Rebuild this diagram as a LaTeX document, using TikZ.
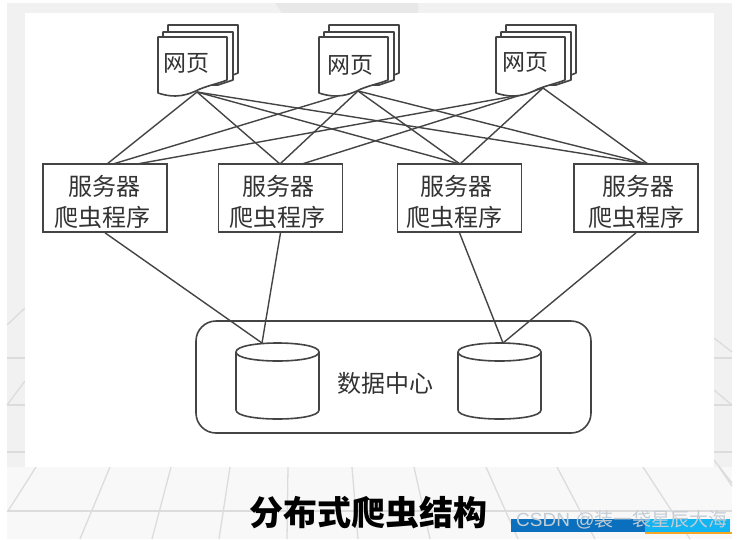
\documentclass[tikz,border=0pt]{standalone}
\usepackage{fontspec}
\newfontfamily\cjk{Noto Sans CJK SC}
\newfontfamily\wmfont{Liberation Sans}
\definecolor{ink}{HTML}{444444}
\definecolor{txt}{HTML}{333333}
\definecolor{strip}{HTML}{F1F1F1}
\definecolor{floorc}{HTML}{F8F8F8}
\definecolor{gridc}{HTML}{DCDCDC}
\definecolor{bardark}{HTML}{0A70BE}
\definecolor{barlight}{HTML}{12B4F2}
\definecolor{barorange}{HTML}{F5A623}
\definecolor{wmark}{HTML}{C4CCD4}
\tikzset{
  conn/.style={draw=ink,line width=1.4pt},
  sheet/.style={draw=ink,fill=white,line width=1.6pt,line join=round},
  srv/.style={draw=ink,fill=white,line width=1.6pt,minimum width=124pt,minimum height=68pt,inner sep=0pt},
  srvtext/.style={inner sep=0pt,align=center,text=txt,font=\cjk\fontsize{24}{31}\selectfont},
  lab/.style={text=txt,inner sep=0pt,font=\cjk\fontsize{23}{28}\selectfont},
  grid line/.style={draw=gridc,line width=1.3pt},
  doc/.pic={
    \path[sheet] (10,-12) -- (80,-12) -- (80,36) -- (70,40) -- (10,40) -- cycle;
    \path[sheet] (5,-5) -- (75,-5) -- (75,43) -- (60,48) -- (5,48) -- cycle;
    \path[sheet] (0,56) .. controls (18,62) and (30,58) .. (42,52) .. controls (52,48) and (62,46) .. (69,43) -- (69,0) -- (0,0) -- cycle;
  },
  db/.pic={
    \path[sheet] (0,9) -- (0,67) .. controls (0,79) and (83,79) .. (83,67) -- (83,9) .. controls (83,-3) and (0,-3) .. (0,9) -- cycle;
    \draw[sheet,fill=none] (0,9) .. controls (0,21) and (83,21) .. (83,9);
  }
}
\begin{document}
\begin{tikzpicture}[x=1pt,y=-1pt]
\useasboundingbox (0,0) rectangle (743,539);
% backdrop
\fill[white] (0,0) rectangle (743,539);
\fill[strip] (7,3) rectangle (732,467);
\fill[floorc] (7,467) rectangle (732,539);
\fill[gray!18] (275,3) -- (418,3) -- (418,13) -- (282,13) -- cycle;
\foreach \y in {358,405,452}{
  \draw[grid line] (7,\y) -- (25,\y);
  \draw[grid line] (714,\y) -- (732,\y);
}
\draw[grid line] (7,511) -- (732,511);
\draw[grid line] (7,405) -- (25,381);
\draw[grid line] (7,325) -- (25,308);
\draw[grid line] (714,338) -- (732,352);
\draw[grid line] (714,390) -- (732,405);
\draw[grid line] (714,460) -- (732,483);
\draw[grid line] (36,467) -- (8,511);
\draw[grid line] (110,467) -- (80,539);
\draw[grid line] (171,467) -- (152,539);
\draw[grid line] (230,467) -- (219,539);
\draw[grid line] (288,467) -- (287,539);
\draw[grid line] (352,467) -- (358,539);
\draw[grid line] (414,467) -- (430,539);
\draw[grid line] (486,467) -- (518,539);
\draw[grid line] (557,467) -- (595,539);
\draw[grid line] (643,467) -- (690,539);
\draw[grid line] (719,467) -- (732,486);
\fill[white] (25,13) rectangle (714,467);

% connection points
\coordinate (t1) at (197,92);
\coordinate (t2) at (358,91);
\coordinate (t3) at (543,88);
\coordinate (t2b) at (338,96);
\coordinate (t3b) at (520,95);
\coordinate (a1) at (107,164);
\coordinate (a2) at (113,164);
\coordinate (a3) at (137,164);
\coordinate (b1) at (280,164);
\coordinate (b3) at (302,164);
\coordinate (c1) at (460,164);
\coordinate (d1) at (648,164);
\coordinate (e1) at (262,343);
\coordinate (e2) at (503,343);

% data centre
\node[draw=ink,fill=white,line width=1.6pt,rounded corners=20pt,minimum width=395pt,minimum height=112pt,inner sep=0pt] (dc) at (393.5,377) {};
\pic at (236,343) {db};
\pic at (458,343) {db};
\node[lab,font=\cjk\fontsize{24}{28}\selectfont] (dclabel) at (385,383) {数据中心};

% connectors
\draw[conn] (t1) -- (a1);
\draw[conn] (t2b) -- (a2);
\draw[conn] (t3b) -- (a3);
\draw[conn] (t1) -- (b1);
\draw[conn] (t2) -- (b1);
\draw[conn] (t3) -- (b3);
\draw[conn] (t1) -- (c1);
\draw[conn] (t2) -- (c1);
\draw[conn] (t3) -- (c1);
\draw[conn] (t1) -- (d1);
\draw[conn] (t2) -- (d1);
\draw[conn] (t3) -- (d1);

% pages
\pic at (158,37) {doc};
\pic at (319,37) {doc};
\pic at (496,37) {doc};
\node[lab] (w1) at (186,63) {网页};
\node[lab] (w2) at (350,65) {网页};
\node[lab] (w3) at (525,62) {网页};

% servers
\node[srv] (s1) at (105,198) {};
\node[srv] (s2) at (280.5,198) {};
\node[srv] (s3) at (459.5,198) {};
\node[srv] (s4) at (636,198) {};
\node[srvtext] (l1) at (102.5,201.5) {\hspace{3pt}服务器\\爬虫程序};
\node[srvtext] (l2) at (277,201.5) {\hspace{3pt}服务器\\爬虫程序};
\node[srvtext] (l3) at (454.5,201.5) {\hspace{3pt}服务器\\爬虫程序};
\node[srvtext] (l4) at (636.5,201.5) {\hspace{3pt}服务器\\爬虫程序};

\draw[conn] (s1.south) -- (e1);
\draw[conn] (s2.south) -- (e1);
\draw[conn] (s3.south) -- (e2);
\draw[conn] (s4.south) -- (e2);

% title
\node[inner sep=0pt,text=black,font=\cjk\bfseries\fontsize{34}{38}\selectfont] (title) at (368,513) {分布式爬虫结构};

% watermark
\fill[bardark] (511,519) rectangle (645,532);
\fill[barlight] (645,519) rectangle (730,532);
\fill[barorange] (645,532) rectangle (732,534);
\node[inner sep=0pt,anchor=west,text=wmark,font=\fontsize{19}{22}\selectfont] (wm) at (516,520) {{\wmfont CSDN @}{\cjk 装一袋星辰大海}};
\end{tikzpicture}
\end{document}
